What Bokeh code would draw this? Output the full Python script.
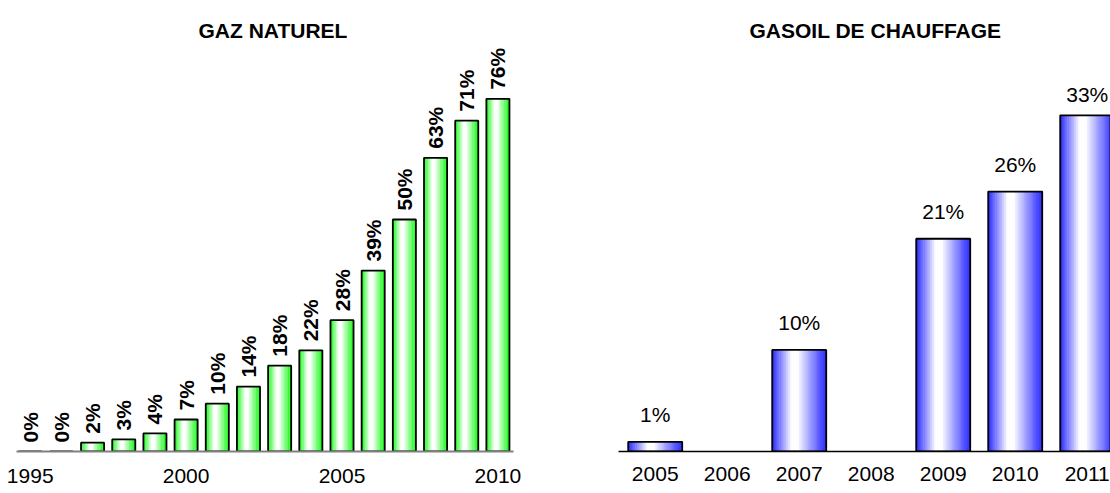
import numpy as np
from bokeh.plotting import figure
from bokeh.models import ColumnDataSource, LabelSet, Label, Range1d, FixedTicker
from bokeh.layouts import row
from bokeh.core.properties import value
from bokeh.embed import file_html
from bokeh.resources import INLINE

# ---------------- data ----------------
gaz_title = "GAZ NATUREL"
gaz_years = [1995, 1996, 1997, 1998, 1999, 2000, 2001, 2002, 2003, 2004,
             2005, 2006, 2007, 2008, 2009, 2010]
gaz_values = [0, 0, 1.9, 2.6, 3.9, 6.9, 10.3, 14.0, 18.5, 21.8,
              28.3, 39.0, 50.0, 63.3, 71.3, 76.0]
gaz_labels = ["0%", "0%", "2%", "3%", "4%", "7%", "10%", "14%", "18%", "22%",
              "28%", "39%", "50%", "63%", "71%", "76%"]
gaz_ticks = [1995, 2000, 2005, 2010]

gasoil_title = "GASOIL DE CHAUFFAGE"
gasoil_years = [2005, 2006, 2007, 2008, 2009, 2010, 2011]
gasoil_values = [0.95, None, 10.0, None, 20.95, 25.6, 33.1]
gasoil_labels = ["1%", "", "10%", "", "21%", "26%", "33%"]

FONT = "Liberation Sans"


def gradient_bars(p, xs, tops, width, edge_rgb, n=30, white_lo=0.36, white_hi=0.48):
    sx, st, sc = [], [], []
    for x, t in zip(xs, tops):
        for k in range(n):
            u = (k + 0.5) / n
            if u < white_lo:
                d = (white_lo - u) / white_lo
            elif u > white_hi:
                d = (u - white_hi) / (1 - white_hi)
            else:
                d = 0.0
            f = d ** 0.95
            r, g, b = [int(round(255 * (1 - f) + c * f)) for c in edge_rgb]
            sx.append(x - width / 2 + u * width)
            st.append(t)
            sc.append("#%02x%02x%02x" % (r, g, b))
    p.vbar(x=sx, top=st, width=width / n * 1.3, fill_color=sc, line_color=None)
    p.vbar(x=xs, top=tops, width=width, fill_color=None, line_color="black", line_width=1.8)


def style(p, axis_color, axis_width, ticks, standoff):
    p.xgrid.visible = False
    p.ygrid.visible = False
    p.outline_line_color = None
    p.background_fill_color = "white"
    p.border_fill_color = "white"
    ax = p.xaxis[0]
    ax.ticker = FixedTicker(ticks=ticks)
    ax.axis_line_color = axis_color
    ax.axis_line_width = axis_width
    ax.major_tick_line_color = None
    ax.minor_tick_line_color = None
    ax.major_tick_out = 0
    ax.major_tick_in = 0
    ax.minor_tick_out = 0
    ax.major_label_standoff = standoff
    ax.major_label_text_font = FONT
    ax.major_label_text_font_size = "21px"
    ax.major_label_text_color = "black"


H = 493
TITLE_BASE = 30

# ---------------- left : gaz naturel ----------------
L_W = 560
l_frame_left, l_frame_w = 16, 497
l_x0, l_x1 = 1994.56, 2010.5
l_bottom = 451
l_scale = 4.64
l_px = l_frame_w / (l_x1 - l_x0)
left = figure(width=L_W, height=H, output_backend="svg", toolbar_location=None,
              y_axis_location=None, x_range=Range1d(l_x0, l_x1),
              y_range=Range1d(0, l_bottom / l_scale),
              min_border_left=l_frame_left, min_border_right=L_W - l_frame_left - l_frame_w,
              min_border_top=0, min_border_bottom=H - l_bottom)
style(left, "#808080", 2, gaz_ticks, 17)

gradient_bars(left, gaz_years, gaz_values, 0.74, (0, 250, 0))
src_l = ColumnDataSource(dict(x=gaz_years, y=gaz_values, t=gaz_labels))
left.add_layout(LabelSet(x="x", y="y", text="t", source=src_l, angle=90, angle_units="deg",
                         text_align="left", text_baseline="middle", y_offset=9,
                         text_font=value(FONT), text_font_style="bold",
                         text_font_size=value("21px"), text_color="black"))
left.add_layout(Label(x=l_x0 + (198 - l_frame_left) / l_px, y=(l_bottom - TITLE_BASE) / l_scale,
                      text=gaz_title, text_align="left", text_baseline="alphabetic",
                      text_font=FONT, text_font_style="bold", text_font_size="21px",
                      text_color="black"))

# ---------------- right : gasoil ----------------
R_W = 550
r_frame_left = 58
r_frame_w = R_W - r_frame_left
r_step = 72.0
r_x0 = 2004.49
r_x1 = r_x0 + r_frame_w / r_step
r_bottom = 453
r_scale = 10.2
right = figure(width=R_W, height=H, output_backend="svg", toolbar_location=None,
               y_axis_location=None, x_range=Range1d(r_x0, r_x1),
               y_range=Range1d(0, r_bottom / r_scale),
               min_border_left=r_frame_left, min_border_right=0,
               min_border_top=0, min_border_bottom=H - r_bottom)
style(right, "black", 1.5, gasoil_years, 15)

ry = [y for y, v in zip(gasoil_years, gasoil_values) if v is not None]
rv = [v for v in gasoil_values if v is not None]
rl = [l for l, v in zip(gasoil_labels, gasoil_values) if v is not None]
gradient_bars(right, ry, rv, 0.75, (40, 40, 255))
# label sits 20px above its bar, but never above the top of the plot area
lab_cap = (r_bottom - 102) / r_scale
ly = [min(v + 20 / r_scale, lab_cap) for v in rv]
src_r = ColumnDataSource(dict(x=ry, y=ly, t=rl))
right.add_layout(LabelSet(x="x", y="y", text="t", source=src_r,
                          text_align="center", text_baseline="alphabetic",
                          text_font=value(FONT), text_font_size=value("21px"),
                          text_color="black"))
right.add_layout(Label(x=r_x0 + (749 - L_W - r_frame_left) / r_step,
                       y=(r_bottom - TITLE_BASE) / r_scale,
                       text=gasoil_title, text_align="left", text_baseline="alphabetic",
                       text_font=FONT, text_font_style="bold", text_font_size="21px",
                       text_color="black"))

layout = row(left, right, spacing=0)
open("out.html", "w").write(file_html(layout, INLINE))
